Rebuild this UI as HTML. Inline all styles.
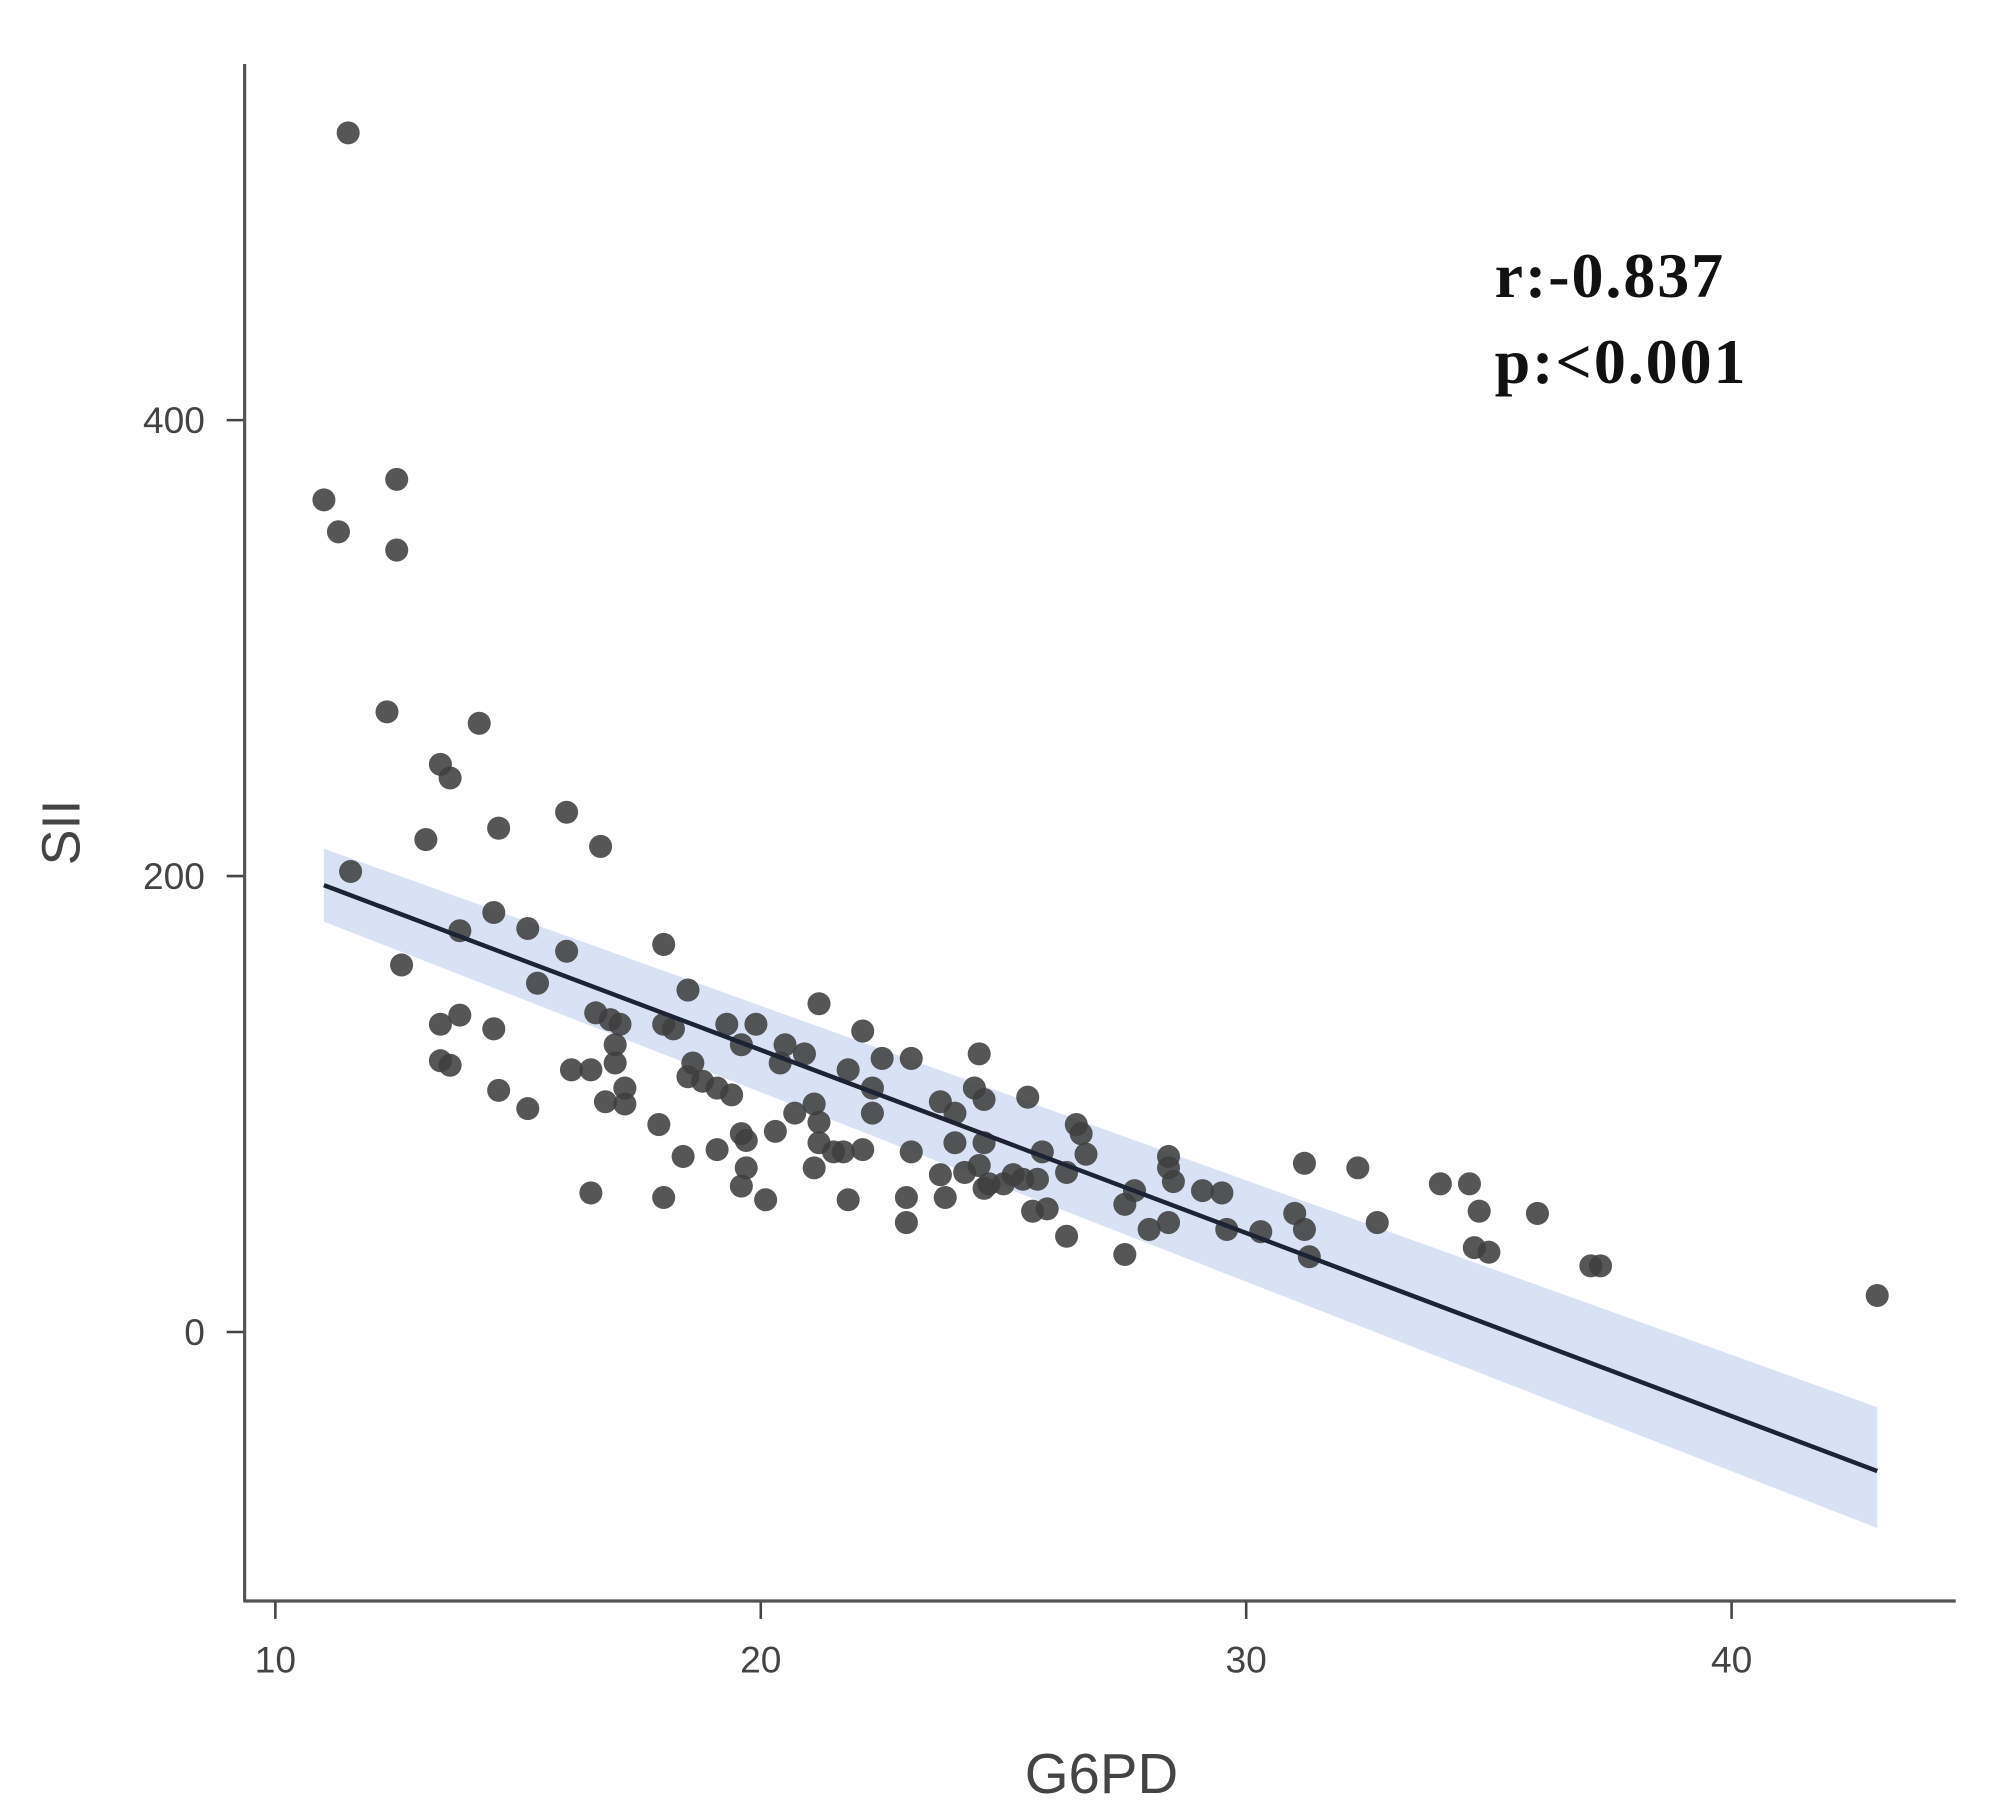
<!DOCTYPE html>
<html><head><meta charset="utf-8"><style>html,body{margin:0;padding:0;background:#fff}svg{display:block}</style></head>
<body>
<svg id="chart" width="1998" height="1805" viewBox="0 0 1560 1409.3" xmlns="http://www.w3.org/2000/svg" font-family="Liberation Sans, sans-serif">
<rect width="1560" height="1410" fill="#fff"/>
<g id="band"></g><g id="pts"></g><g id="line"></g><g id="axes"></g>
<text x="1167" y="232" font-family="Liberation Serif, serif" font-weight="bold" font-size="50" letter-spacing="1.5" fill="#111">r:-0.837</text>
<text x="1167" y="299" font-family="Liberation Serif, serif" font-weight="bold" font-size="50" letter-spacing="1.5" fill="#111">p:&lt;0.001</text>
<text x="860" y="1400" text-anchor="middle" font-size="44" fill="#444">G6PD</text>
<text transform="translate(62,650) rotate(-90)" text-anchor="middle" font-size="42" fill="#444">SII</text>
</svg>
<script>
const xs=[11.5,11.0,11.3,12.5,12.5,12.3,14.2,13.4,13.6,13.1,14.6,16.0,16.7,11.55,12.6,14.5,13.8,15.2,16.0,15.4,18.0,13.4,13.8,14.5,13.4,13.6,14.6,15.2,16.5,16.1,16.5,16.6,16.9,17.1,17.0,17.0,16.8,17.2,17.2,17.9,18.0,18.0,18.2,18.5,18.6,18.5,18.8,19.1,19.4,18.4,19.1,19.3,19.6,19.9,19.6,19.7,19.7,19.6,20.1,20.3,20.4,20.5,20.7,20.9,21.2,21.1,21.2,21.2,21.1,21.5,21.7,21.8,21.8,22.1,22.1,22.3,22.5,22.3,23.0,23.0,23.1,23.1,23.7,23.8,23.7,24.0,24.0,24.2,24.4,24.5,24.6,24.6,24.5,24.7,24.6,25.0,25.2,25.4,25.5,25.6,25.7,25.8,25.9,26.3,26.3,26.5,26.6,26.7,27.5,27.5,27.7,28.0,28.4,28.4,28.4,28.5,29.1,29.5,29.6,30.3,31.0,31.2,31.2,31.3,32.3,32.7,34.0,34.6,34.8,34.7,35.0,36.0,37.1,37.3,43.0];
const ys=[526,365,351,374,343,272,267,249,243,216,221,228,213,202,161,184,176,177,167,153,170,135,139,133,119,117,106,98,61,115,115,140,137,135,126,118,101,100,107,91,59,135,133,150,118,112,110,107,104,77,80,135,126,135,87,84,72,64,58,88,118,126,96,122,144,100,92,83,72,79,79,115,58,80,132,96,120,107,59,48,120,79,101,59,69,83,96,70,107,122,102,63,73,65,83,65,69,67,103,53,67,79,54,70,42,91,87,78,34,56,62,45,77,72,48,66,62,61,45,44,52,74,45,33,72,48,65,65,53,37,35,52,29,29,16];
const xTicks=[10,20,30,40];
const yTicks=[0,200,400];
const fitX=[11,43];
const fitY=[196,-61];
const bandLo=[180,-86];
const bandHi=[212,-33];
const NS='http://www.w3.org/2000/svg';
const X=v=>215+(v-10)*37.9, Y=v=>1040-v*1.78;
function mk(t,a,p){const e=document.createElementNS(NS,t);for(const k in a)e.setAttribute(k,a[k]);p.appendChild(e);return e;}
const band=document.getElementById('band');
const bp=mk('polygon',{points:`${X(fitX[0])},${Y(bandHi[0])} ${X(fitX[1])},${Y(bandHi[1])} ${X(fitX[1])},${Y(bandLo[1])} ${X(fitX[0])},${Y(bandLo[0])}`,fill:'#c9d6ef','fill-opacity':'0.7'},band);


const pts=document.getElementById('pts');
xs.forEach((x,i)=>{const c=mk('circle',{cx:X(x),cy:Y(ys[i]),r:9,fill:'#3f3f3f','fill-opacity':'0.88'},pts);

});
const ln=mk('line',{x1:X(fitX[0]),y1:Y(fitY[0]),x2:X(fitX[1]),y2:Y(fitY[1]),stroke:'#1c2433','stroke-width':3.5},document.getElementById('line'));


const ax=document.getElementById('axes');
const ya=mk('line',{x1:191,y1:50,x2:191,y2:1250,stroke:'#555','stroke-width':2.5},ax);


const xa=mk('line',{x1:190,y1:1250,x2:1527,y2:1250,stroke:'#555','stroke-width':2.5},ax);


xTicks.forEach(t=>{mk('line',{x1:X(t),y1:1251,x2:X(t),y2:1264,stroke:'#444','stroke-width':2},ax);
const tx=mk('text',{x:X(t),y:1306,'text-anchor':'middle','font-size':29,fill:'#444'},ax);tx.textContent=t;

});
yTicks.forEach(t=>{mk('line',{x1:177,y1:Y(t),x2:190,y2:Y(t),stroke:'#444','stroke-width':2},ax);
const tx=mk('text',{x:160,y:Y(t)+10,'text-anchor':'end','font-size':29,fill:'#444'},ax);tx.textContent=t;

});
</script>
</body></html>
